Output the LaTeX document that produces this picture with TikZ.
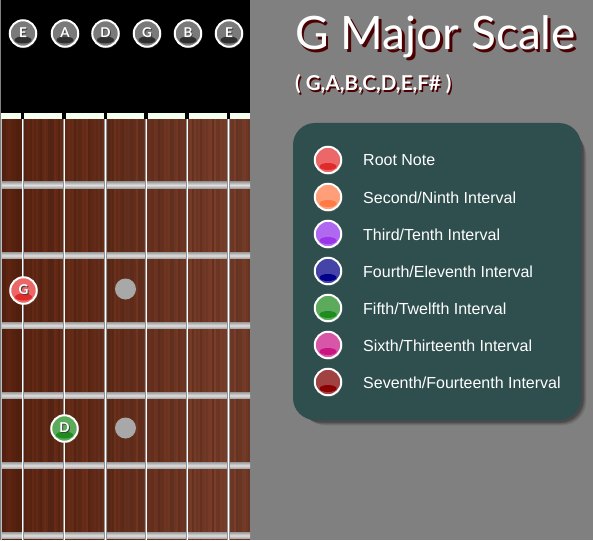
\documentclass[tikz,border=0pt]{standalone}
\usepackage{fontspec}
\setmainfont{Liberation Sans}
\newfontfamily\titlefont{Lato}
\usetikzlibrary{shadows}
\definecolor{bggray}{HTML}{808080}
\definecolor{boxc}{HTML}{2F4F4F}
\definecolor{woodL}{HTML}{5E2410}
\definecolor{woodR}{HTML}{7A3E2A}
\definecolor{tshadow}{HTML}{4A0000}
\definecolor{nutc}{HTML}{F4FFF0}
\definecolor{rootA}{HTML}{EC6868}\definecolor{rootB}{HTML}{E02B2B}
\definecolor{secA}{HTML}{FF9E78}\definecolor{secB}{HTML}{FF7A45}
\definecolor{thiA}{HTML}{B068F0}\definecolor{thiB}{HTML}{9A35E8}
\definecolor{fouA}{HTML}{4444A8}\definecolor{fouB}{HTML}{00008B}
\definecolor{fifA}{HTML}{5CAA5C}\definecolor{fifB}{HTML}{1E8C1E}
\definecolor{sixA}{HTML}{D856A8}\definecolor{sixB}{HTML}{C8157F}
\definecolor{sevA}{HTML}{A04242}\definecolor{sevB}{HTML}{8B0000}
\definecolor{hdrA}{HTML}{7A7A7A}\definecolor{hdrB}{HTML}{303030}
\newcommand\shtext[1]{\makebox[0pt][l]{\hspace{0.9pt}\raisebox{-0.9pt}{\color{black!75}#1}}#1}
\tikzset{
  notedot/.style 2 args={circle, minimum size=26.5pt, inner sep=0pt, fill=#1, draw=white, line width=2pt,
    drop shadow={opacity=0.35, shadow xshift=1pt, shadow yshift=-1.5pt},
    text=white, font=\titlefont\bfseries\fontsize{13.5}{13.5}\selectfont,
    path picture={\fill[#2] ([yshift=-6.5pt]path picture bounding box.center) ellipse (8.5pt and 3.5pt);}},
  fretbar/.style={top color=gray!75, bottom color=gray!75, middle color=gray!25},
  marker/.style={circle, fill=black!34, minimum size=21pt, inner sep=0pt},
  legtext/.style={anchor=west, text=white, font=\fontsize{16}{16}\selectfont, inner sep=0pt},
  stringline/.style={draw=gray!85, line width=2.4pt},
  stringcore/.style={draw=white, line width=0.9pt}
}
\begin{document}
\begin{tikzpicture}[x=1pt,y=-1pt]
\useasboundingbox (0,0) rectangle (593,540);
\fill[bggray] (0,0) rectangle (593,540);
% headstock area
\fill[black] (1,0) rectangle (250,113);
% wood
\pgfmathsetseed{7}
\foreach \i in {0,...,123}{
  \pgfmathsetmacro\p{min(100,max(0,\i/1.1+25*(rnd-0.5)))}
  \pgfmathsetmacro\q{82+18*rnd}
  \colorlet{stripec}{woodR!\p!woodL}
  \fill[stripec!\q!black] (2+2*\i,119) rectangle (4.2+2*\i,540);
}
\fill[black!25!white] (0.5,113) rectangle (2,540);
% nut
\fill[nutc] (1,113) rectangle (250,119);
% frets
\foreach \y in {185,255.5,325.5,395.5,465.5,535.5}{
  \shade[fretbar] (2,\y-3.2) rectangle (250,\y+3.2);
}
% strings
\foreach \x [count=\k] in {22.7,64,105.3,146,187,228.3}{
  \coordinate (s\k top) at (\x,113);
  \coordinate (s\k bot) at (\x,540);
  \fill[black] (\x-1.6,113) rectangle (\x+1.6,119);
  \draw[stringline] (\x,119) -- (\x,540);
  \draw[stringcore] (\x,119) -- (\x,540);
}
% fret markers
\node[marker] (m1) at (125.5,289) {};
\node[marker] (m2) at (125.5,428) {};
% header note circles
\foreach \x/\l [count=\k] in {23/E,65/A,105.5/D,147/G,188/B,229/E}{
  \node[notedot={hdrA}{hdrB}] (h\k) at (\x,33.5) {\shtext{\l}};
}
% notes on fretboard
\node[notedot={rootA}{rootB}] (noteG) at (23.5,290.5) {\shtext{G}};
\node[notedot={fifA}{fifB}] (noteD) at (64.5,428.5) {\shtext{D}};
% title
\node[anchor=base west, inner sep=0pt, text=tshadow, font=\titlefont\fontsize{46}{46}\selectfont] (titles) at (297.5,52.5) {G Major Scale};
\node[anchor=base west, inner sep=0pt, text=white, font=\titlefont\fontsize{46}{46}\selectfont] (title) at (295,50) {G Major Scale};
\node[anchor=base west, inner sep=0pt, text=tshadow, font=\titlefont\bfseries\fontsize{20.5}{20.5}\selectfont] (subs) at (296.5,92.5) {( G,A,B,C,D,E,F\# )};
\node[anchor=base west, inner sep=0pt, text=white, font=\titlefont\bfseries\fontsize{20.5}{20.5}\selectfont] (sub) at (295,91) {( G,A,B,C,D,E,F\# )};
% legend box shadow
\foreach \o/\a in {9/0.08,7.5/0.1,6/0.14,4.5/0.18}{
  \fill[black, opacity=\a, rounded corners=24pt] (293+\o,123+\o) rectangle (581+\o*0.6,420+\o*0.6);
}
\fill[boxc, rounded corners=22pt] (293,123) rectangle (581,420);
% legend
\foreach \ca/\cb/\t [count=\k] in {rootA/rootB/Root Note, secA/secB/Second\slash Ninth Interval, thiA/thiB/Third\slash Tenth Interval, fouA/fouB/Fourth\slash Eleventh Interval, fifA/fifB/Fifth\slash Twelfth Interval, sixA/sixB/Sixth\slash Thirteenth Interval, sevA/sevB/Seventh\slash Fourteenth Interval}{
  \node[notedot={\ca}{\cb}] (l\k) at (328,123+37*\k) {};
  \node[legtext] (t\k) at (363,123.5+37*\k) {\t};
}
\end{tikzpicture}
\end{document}
